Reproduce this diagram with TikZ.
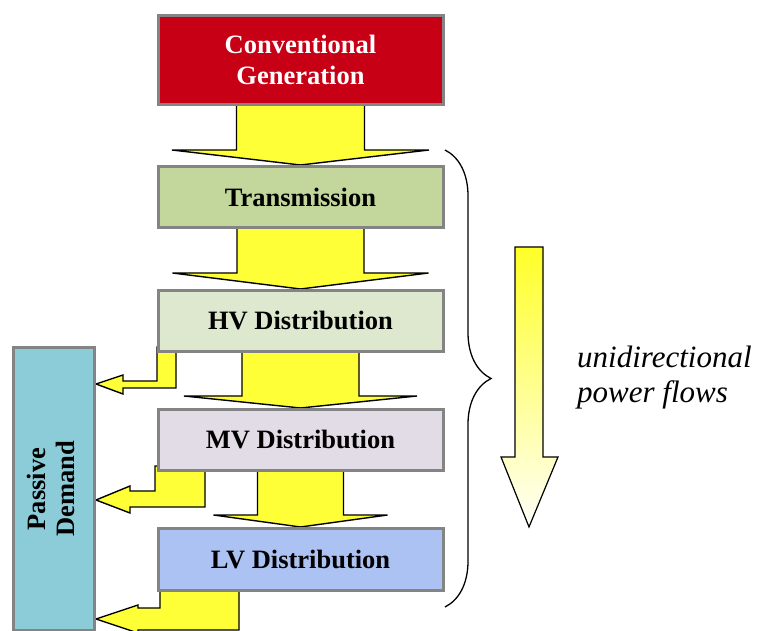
\documentclass[tikz,border=0pt]{standalone}
\usepackage{fontspec}
\setmainfont{Liberation Serif}
\usetikzlibrary{calc,backgrounds,decorations.pathreplacing}
\definecolor{genred}{RGB}{200,0,22}
\definecolor{transgreen}{RGB}{195,214,155}
\definecolor{hvgreen}{RGB}{222,232,206}
\definecolor{mvlav}{RGB}{226,220,230}
\definecolor{lvblue}{RGB}{172,194,242}
\definecolor{pdcyan}{RGB}{140,204,216}
\definecolor{boxgray}{RGB}{132,132,132}
\definecolor{arrowyellow}{RGB}{255,255,55}
\begin{document}
\begin{tikzpicture}[x=1pt,y=1pt,
  box/.style={draw=boxgray, line width=3pt, minimum width=285pt, inner sep=0pt,
    align=center, font=\fontsize{26.5}{30.5}\selectfont\bfseries},
  yarrow/.style={draw=black, line width=1.4pt, fill=arrowyellow, line join=miter},
  flowtext/.style={align=left, inner sep=0pt, font=\fontsize{31}{35}\selectfont\itshape},
]
\useasboundingbox (0,0) rectangle (761,630);

% boxes
\node[box, fill=genred, text=white, minimum height=89pt] (gen) at (300.5,570) {Conventional\\Generation};
\node[box, fill=transgreen, minimum height=61pt] (trans) at (300.5,433) {Transmission};
\node[box, fill=hvgreen, minimum height=61pt] (hv) at (300.5,309) {HV Distribution};
\node[box, fill=mvlav, minimum height=61pt] (mv) at (300.5,190) {MV Distribution};
\node[box, fill=lvblue, minimum height=62pt] (lv) at (300.5,70.5) {LV Distribution};
\node[box, fill=pdcyan, minimum width=81pt, minimum height=283pt] (pd) at (54,141)
  {\rotatebox{90}{\begin{tabular}{@{}c@{}}Passive\\[-2pt]Demand\end{tabular}}};

\newcommand{\mainarrow}[5]{%
  \draw[yarrow] ($(#1.south)+(-#3,6)$) -- ($(#2.north)+(-#3,#5)$) -- ($(#2.north)+(-#4,#5)$)
    -- (#2.north) -- ($(#2.north)+(#4,#5)$) -- ($(#2.north)+(#3,#5)$) -- ($(#1.south)+(#3,6)$) -- cycle;}

\begin{scope}[on background layer]
  \mainarrow{gen}{trans}{64}{128.5}{15}
  \mainarrow{trans}{hv}{63.5}{128}{16}
  \mainarrow{hv}{mv}{58.5}{116.5}{12}
  \mainarrow{mv}{lv}{43}{87}{12}
  % side arrows to passive demand
  \coordinate (hvb) at ([yshift=6pt]hv.south);
  \coordinate (mvb) at ([yshift=6pt]mv.south);
  \coordinate (lvb) at ([yshift=6pt]lv.south);
  \draw[yarrow] (hvb -| 157,0) -- (hvb -| 176,0) -- (176,242) -- (123,242) -- (123,236)
    -- (pd.east |- 0,246) -- (123,255) -- (123,249) -- (157,249) -- cycle;
  \draw[yarrow] (mvb -| 155,0) -- (mvb -| 205,0) -- (205,123) -- (130,123) -- (130,117)
    -- (pd.east |- 0,130) -- (130,144) -- (130,139) -- (155,139) -- cycle;
  \draw[yarrow] (lvb -| 160,0) -- (lvb -| 239,0) -- (239,0) -- (138,0) -- (138,-3)
    -- (pd.east |- 0,11) -- (138,25) -- (138,22) -- (160,22) -- cycle;
\end{scope}

% brace
\draw[line width=1.3pt, decorate, decoration={brace, amplitude=46pt}] (445,480) -- (445,23);

% gradient flow arrow
\draw[line width=1.2pt, top color={rgb,255:red,255;green,255;blue,40}, bottom color={rgb,255:red,255;green,255;blue,248}]
  (515,383) -- (515,173) -- (501,173) -- (529,103) -- (558,173) -- (543,173) -- (543,383) -- cycle;

\node[flowtext, anchor=base west] (flow) at (577,227) {unidirectional\\power flows};
\end{tikzpicture}
\end{document}
